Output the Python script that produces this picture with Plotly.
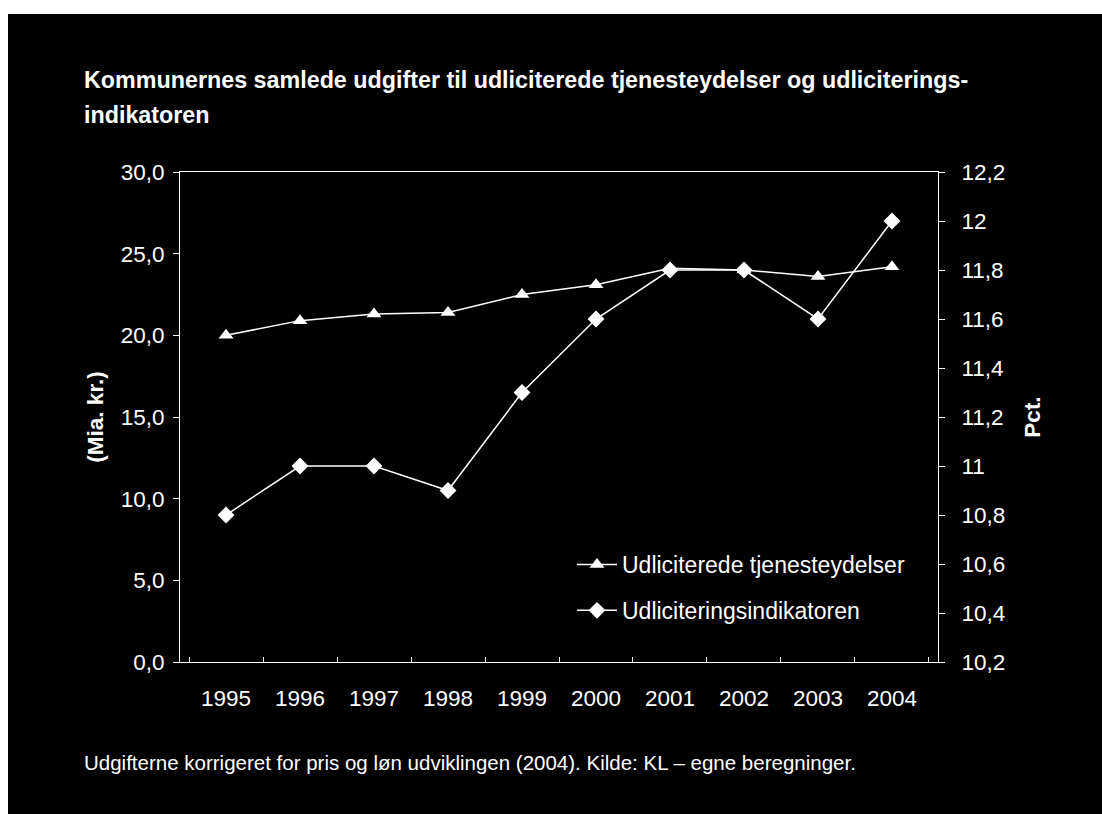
import plotly.graph_objects as go

years = ["1995", "1996", "1997", "1998", "1999", "2000", "2001", "2002", "2003", "2004"]
udgifter = [20.0, 20.9, 21.3, 21.4, 22.5, 23.1, 24.1, 24.0, 23.6, 24.2]
indikator = [10.8, 11.0, 11.0, 10.9, 11.3, 11.6, 11.8, 11.8, 11.6, 12.0]

left_ticks = [0, 5, 10, 15, 20, 25, 30]
left_labels = ["0,0", "5,0", "10,0", "15,0", "20,0", "25,0", "30,0"]
right_ticks = [10.2, 10.4, 10.6, 10.8, 11.0, 11.2, 11.4, 11.6, 11.8, 12.0, 12.2]
right_labels = ["10,2", "10,4", "10,6", "10,8", "11", "11,2", "11,4", "11,6", "11,8", "12", "12,2"]

title_l1 = "Kommunernes samlede udgifter til udliciterede tjenesteydelser og udliciterings-"
title_l2 = "indikatoren"
note = "Udgifterne korrigeret for pris og løn udviklingen (2004). Kilde: KL – egne beregninger."

W, H = 1102, 814
L, R, T, B = 180, 938, 172, 662
pw, ph = R - L, B - T

def px(x):
    return (x - L) / pw

def py(y):
    return (B - y) / ph

FONT = "Liberation Sans, Arial, sans-serif"
WHITE = "#ffffff"

fig = go.Figure()
fig.add_trace(go.Scatter(
    x=years, y=udgifter, name="Udliciterede tjenesteydelser",
    mode="lines+markers", legendgroup="a",
    line=dict(color=WHITE, width=1.5),
    marker=dict(symbol="triangle-up", size=13, color=WHITE),
))
fig.add_trace(go.Scatter(
    x=years, y=indikator, name="Udliciteringsindikatoren",
    mode="lines+markers", legendgroup="b", yaxis="y2",
    line=dict(color=WHITE, width=1.5),
    marker=dict(symbol="diamond", size=13, color=WHITE),
))

axis_common = dict(showgrid=False, zeroline=False, showline=True, linecolor=WHITE,
                   linewidth=1, tickcolor=WHITE, ticks="outside", ticklen=6,
                   tickfont=dict(family=FONT, size=22.5, color=WHITE))

fig.update_layout(
    width=W, height=H,
    paper_bgcolor="#000000", plot_bgcolor="#000000",
    margin=dict(l=L, r=W - R, t=T, b=H - B, pad=0),
    showlegend=True,
    legend=dict(x=px(572), y=py(543), xanchor="left", yanchor="top",
                bgcolor="rgba(0,0,0,0)", font=dict(family=FONT, size=23, color=WHITE),
                tracegroupgap=13, itemwidth=40),
    xaxis=dict(axis_common, type="category", tickson="boundaries", mirror=True,
               ticklabelstandoff=16, ticks="inside", ticklen=5),
    yaxis=dict(axis_common, range=[0, 30], tickvals=left_ticks, ticktext=left_labels,
               ticklabelstandoff=4,
               title=dict(text="<b>(Mia. kr.)</b>", standoff=10,
                          font=dict(family=FONT, size=22.5, color=WHITE))),
    yaxis2=dict(axis_common, overlaying="y", side="right", range=[10.2, 12.2],
                tickvals=right_ticks, ticktext=right_labels, ticklabelstandoff=12,
                title=dict(text="<b>Pct.</b>", standoff=19,
                           font=dict(family=FONT, size=22.5, color=WHITE))),
    annotations=[
        dict(text="<b>" + title_l1 + "</b>", x=px(82), y=py(80), xref="paper", yref="paper",
             xanchor="left", yanchor="middle", showarrow=False,
             font=dict(family=FONT, size=23.3, color=WHITE)),
        dict(text="<b>" + title_l2 + "</b>", x=px(82), y=py(115), xref="paper", yref="paper",
             xanchor="left", yanchor="middle", showarrow=False,
             font=dict(family=FONT, size=23.3, color=WHITE)),
        dict(text=note, x=px(82), y=py(762), xref="paper", yref="paper",
             xanchor="left", yanchor="middle", showarrow=False,
             font=dict(family=FONT, size=20.5, color=WHITE)),
    ],
    shapes=[
        dict(type="rect", xref="paper", yref="paper", x0=px(0), x1=px(W),
             y0=py(14), y1=py(0), fillcolor=WHITE, line=dict(width=0)),
        dict(type="rect", xref="paper", yref="paper", x0=px(0), x1=px(8),
             y0=py(H), y1=py(0), fillcolor=WHITE, line=dict(width=0)),
    ],
)

fig.write_html(
    "out.html",
    config={"displayModeBar": False},
    post_script="document.body.style.margin='0';"
                "document.documentElement.style.overflow='hidden';"
                "document.body.style.overflow='hidden';",
)
